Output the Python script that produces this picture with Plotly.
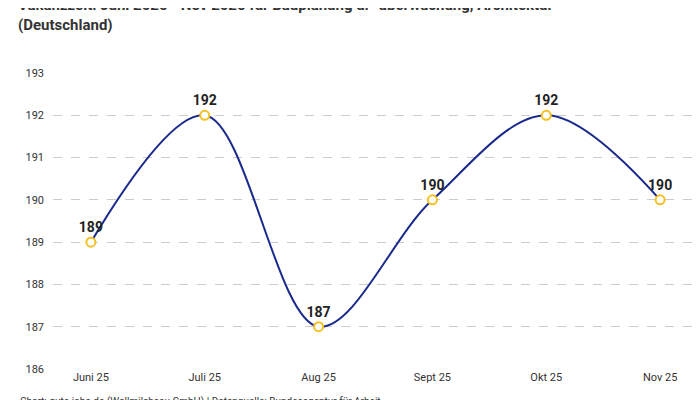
import plotly.graph_objects as go

months = ["Juni 25", "Juli 25", "Aug 25", "Sept 25", "Okt 25", "Nov 25"]
values = [189, 192, 187, 190, 192, 190]
yticks = [186, 187, 188, 189, 190, 191, 192, 193]

fig = go.Figure(go.Scatter(
    x=months, y=values, mode="lines+markers+text",
    line=dict(shape="spline", smoothing=1.0, color="#1a2a8c", width=2),
    marker=dict(size=9, color="white", line=dict(color="#f5c022", width=2)),
    text=[str(v) for v in values], textposition="top center",
    textfont=dict(family="Roboto, sans-serif", size=14, color="#222"),
    texttemplate="<b>%{text}</b>", cliponaxis=False,
))
fig.update_layout(
    width=700, height=400, plot_bgcolor="white", paper_bgcolor="white",
    margin=dict(l=45, r=10, t=65, b=39, autoexpand=False), showlegend=False,
    font=dict(family="Roboto, sans-serif", size=11, color="#333"),
    title=dict(text="<b>Vakanzzeit: Juni 2025 - Nov 2025 für Bauplanung u. -überwachung, Architektur<br>(Deutschland)</b>",
               x=10/700, xanchor="left", xref="container", yref="container", y=0.995, yanchor="top",
               automargin=False, font=dict(size=15, color="#333")),
    xaxis=dict(showgrid=False, ticks="", tickfont=dict(size=11), automargin=False),
    yaxis=dict(range=[186, 193], tickvals=yticks, gridcolor="#cccccc", griddash="dash",
               zeroline=False, tickfont=dict(size=11), ticklabelstandoff=8, automargin=False),
    annotations=[dict(text="Chart: gute-jobs.de (Wollmilchsau GmbH) | Datenquelle: Bundesagentur für Arbeit",
                      xref="paper", yref="paper", x=-0.055, y=-0.085, xanchor="left", yanchor="top",
                      showarrow=False, font=dict(size=10, color="#333"))],
)
fig.write_html("out.html")
